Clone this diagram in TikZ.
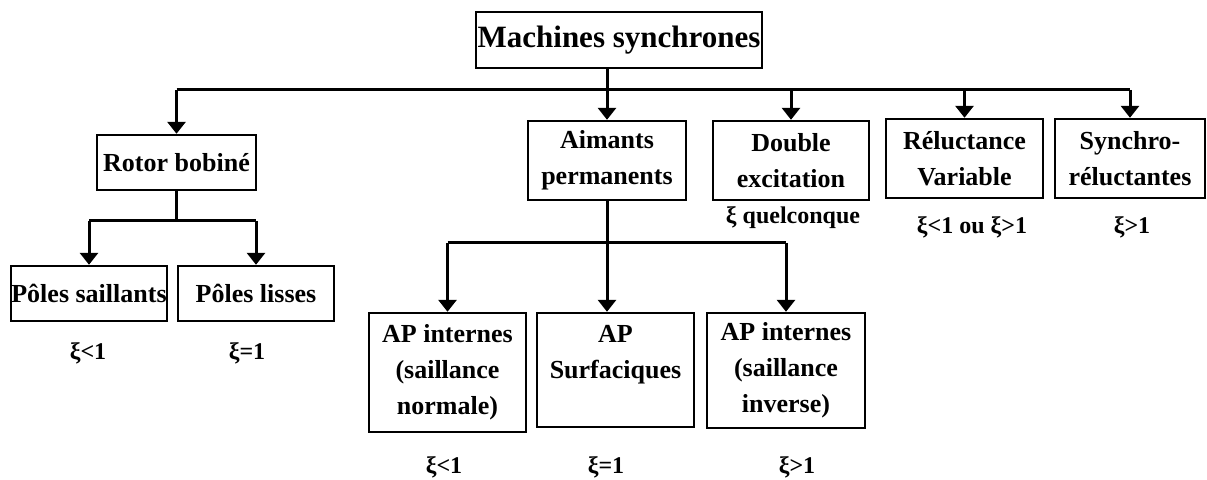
\documentclass[tikz,border=0pt]{standalone}
\usepackage{fontspec}
\setmainfont{Liberation Serif}
\usetikzlibrary{arrows.meta,positioning}

\begin{document}
\begin{tikzpicture}[x=0.5pt,y=-0.5pt,
	bx/.style={draw,line width=1.2pt,inner sep=0pt,align=center,
		font=\bfseries\fontsize{13}{18}\selectfont},
	lbl/.style={inner sep=0pt,font=\bfseries\fontsize{12}{14}\selectfont},
	ln/.style={line width=1.5pt},
	fl/.style={line width=1.5pt,-{Triangle[width=9pt,length=6pt]}}]
	\useasboundingbox (0,0) rectangle (1207,480);
	% niveau 0
	\node[bx, minimum width=143pt, minimum height=28pt,
		font=\bfseries\fontsize{15.5}{18}\selectfont] (ms) at (619,40) {Machines synchrones};
	% niveau 1
	\node[bx, minimum width=79.5pt, minimum height=27.5pt] (rotor) at (176.5,162.5) {Rotor bobin\'e};
	\node[bx, minimum width=79pt, minimum height=39.5pt] (aim) at (607,160.5) {Aimants\\permanents};
	\node[bx, minimum width=78pt, minimum height=39.5pt] (dbl) at (791,160.5) {Double\\excitation};
	\node[bx, minimum width=78.5pt, minimum height=39.5pt] (rel) at (964.5,158.5) {R\'eluctance\\Variable};
	\node[bx, minimum width=75pt, minimum height=39.5pt] (syn) at (1130,158.5) {Synchro-\\r\'eluctantes};
	% niveau 2
	\node[bx, minimum width=78pt, minimum height=27.5pt] (ps) at (89,293.5) {P\^oles saillants};
	\node[bx, minimum width=78pt, minimum height=27.5pt] (pl) at (256,293.5) {P\^oles lisses};
	\node[bx, minimum width=78.5pt, minimum height=59.5pt] (api) at (447.5,372.5) {AP internes\\(saillance\\normale)};
	\node[bx, minimum width=78.5pt, minimum height=57pt] (aps) at (615.5,370) {AP\\Surfaciques\\\mbox{}};
	\node[bx, minimum width=79pt, minimum height=57.5pt] (apv) at (786,370.5) {AP internes\\(saillance\\inverse)};
	% valeurs de xi
	\node[lbl] (xps) at (88,353) {ξ<1};
	\node[lbl] (xpl) at (247,353) {ξ=1};
	\node[lbl] (xdbl) at (793,218) {ξ quelconque};
	\node[lbl] (xrel) at (972,227) {ξ<1 ou ξ>1};
	\node[lbl] (xsyn) at (1132,227) {ξ>1};
	\node[lbl] (xapi) at (444,467) {ξ<1};
	\node[lbl] (xaps) at (606,467) {ξ=1};
	\node[lbl] (xapv) at (797,467) {ξ>1};
	% liaisons
	\coordinate (b1) at (0,90);
	\coordinate (b2) at (0,221);
	\coordinate (b3) at (0,243);
	\draw[ln] (rotor.north |- b1) -- (syn.north |- b1);
	\draw[fl] (ms.south -| aim) -- (aim.north);
	\foreach \n in {rotor,dbl,rel,syn}
		\draw[fl] (\n.north |- b1) -- (\n.north);
	\draw[ln] (rotor.south) -- (rotor |- b2);
	\draw[ln] (ps |- b2) -- (pl |- b2);
	\foreach \n in {ps,pl}
		\draw[fl] (\n |- b2) -- (\n.north);
	\draw[fl] (aim.south) -- (aim.south |- aps.north);
	\draw[ln] (api |- b3) -- (apv |- b3);
	\foreach \n in {api,apv}
		\draw[fl] (\n |- b3) -- (\n.north);
\end{tikzpicture}
\end{document}
